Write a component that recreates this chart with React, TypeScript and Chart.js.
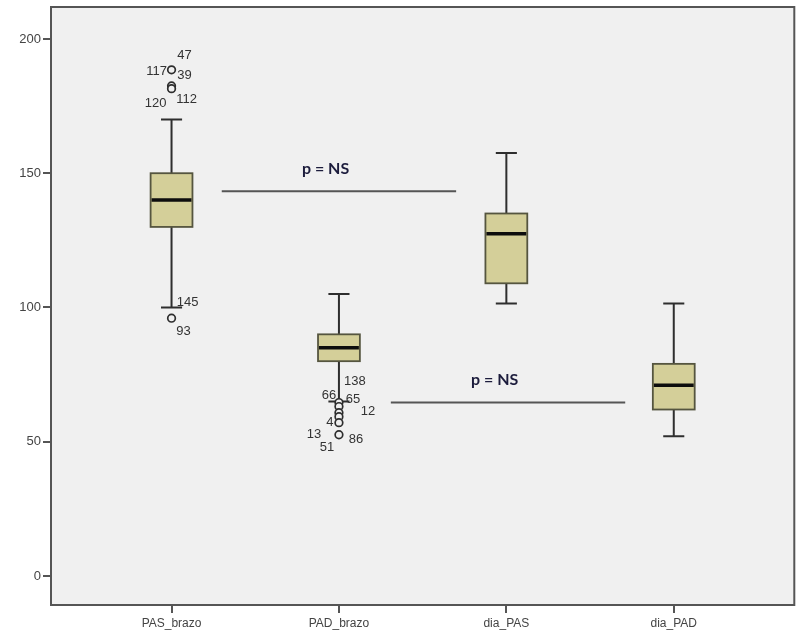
import React, { useEffect, useRef } from "react";
import { Chart, registerables } from "chart.js";

Chart.register(...registerables);

// ---- data ----
const categories = ["PAS_brazo", "PAD_brazo", "dia_PAS", "dia_PAD"];
const whiskerLow = [100, 65, 101.5, 52];
const q1 = [130, 80, 109, 62];
const median = [140, 85, 127.5, 71];
const q3 = [150, 90, 135, 79];
const whiskerHigh = [170, 105, 157.5, 101.5];

const outlierCat = [0, 0, 0, 0, 1, 1, 1, 1, 1, 1];
const outlierVal = [188.5, 182.5, 181.5, 96, 64.6, 63.1, 60.8, 59.3, 57.1, 52.6];

const labelCat = [0, 0, 0, 0, 0, 0, 0, 1, 1, 1, 1, 1, 1, 1, 1];
const labelVal = [188.5, 188.5, 188.5, 182, 182, 100, 96, 64.6, 64.6, 64.6, 60.8, 59.3, 52.6, 52.6, 52.6];
const labelText = ["47", "117", "39", "120", "112", "145", "93", "138", "66", "65", "12", "4", "13", "51", "86"];

const yTicks = [0, 50, 100, 150, 200];

const pLine1X = [0.3, 1.7];
const pLine1Y = [143.3, 143.3];
const pLine2X = [1.31, 2.71];
const pLine2Y = [64.6, 64.6];
const pTextX = [0.92, 1.93];
const pTextY = [151.5, 73];
const pText = ["p = NS", "p = NS"];

// ---- styling (pixel offsets of the outlier labels) ----
const labelOffsets: [number, number][] = [
  [13, -14], [-15, 2], [13, 6], [-16, 16], [15, 12], [16, -5], [12, 13],
  [16, -21], [-10, -7], [14, -3], [29, -1], [-9, 6], [-25, 0], [-12, 13], [17, 5],
];

const boxHalf = 0.125;
const capHalf = 0.063;

export default function App() {
  const ref = useRef<HTMLCanvasElement | null>(null);

  useEffect(() => {
    document.body.style.margin = "0";
    const canvas = ref.current!;
    const boxPlugin = {
      id: "boxes",
      beforeDraw(chart: any) {
        const { ctx, chartArea: a } = chart;
        ctx.save();
        ctx.fillStyle = "#f0f0f0";
        ctx.fillRect(a.left, a.top, a.right - a.left, a.bottom - a.top);
        ctx.restore();
      },
      beforeDatasetsDraw(chart: any) {
        const { ctx } = chart;
        const xs = chart.scales.x;
        const ys = chart.scales.y;
        ctx.save();
        for (let i = 0; i < categories.length; i++) {
          const cx = xs.getPixelForValue(i);
          const bl = xs.getPixelForValue(i - boxHalf);
          const br = xs.getPixelForValue(i + boxHalf);
          const cl = xs.getPixelForValue(i - capHalf);
          const cr = xs.getPixelForValue(i + capHalf);
          const yLo = ys.getPixelForValue(whiskerLow[i]);
          const yHi = ys.getPixelForValue(whiskerHigh[i]);
          const y1 = ys.getPixelForValue(q1[i]);
          const y3 = ys.getPixelForValue(q3[i]);
          const ym = ys.getPixelForValue(median[i]);
          ctx.strokeStyle = "#2e2e2e";
          ctx.lineWidth = 2;
          ctx.beginPath();
          ctx.moveTo(cx, yHi); ctx.lineTo(cx, y3);
          ctx.moveTo(cx, y1); ctx.lineTo(cx, yLo);
          ctx.moveTo(cl, yHi); ctx.lineTo(cr, yHi);
          ctx.moveTo(cl, yLo); ctx.lineTo(cr, yLo);
          ctx.stroke();
          ctx.fillStyle = "#d4cf99";
          ctx.fillRect(bl, y3, br - bl, y1 - y3);
          ctx.strokeStyle = "#55553f";
          ctx.lineWidth = 1.8;
          ctx.strokeRect(bl, y3, br - bl, y1 - y3);
          ctx.strokeStyle = "#0d0d0d";
          ctx.lineWidth = 3.5;
          ctx.beginPath();
          ctx.moveTo(bl + 1, ym); ctx.lineTo(br - 1, ym);
          ctx.stroke();
        }
        ctx.restore();
      },
      afterDatasetsDraw(chart: any) {
        const { ctx } = chart;
        const xs = chart.scales.x;
        const ys = chart.scales.y;
        ctx.save();
        ctx.fillStyle = "#333333";
        ctx.font = "13px Arial, 'Liberation Sans', sans-serif";
        ctx.textAlign = "center";
        ctx.textBaseline = "middle";
        for (let i = 0; i < labelText.length; i++) {
          const px = xs.getPixelForValue(labelCat[i]) + labelOffsets[i][0];
          const py = ys.getPixelForValue(labelVal[i]) + labelOffsets[i][1];
          ctx.fillText(labelText[i], px, py);
        }
        ctx.fillStyle = "#1c1c3c";
        ctx.font = "bold 16px Lato, 'Open Sans', sans-serif";
        for (let i = 0; i < pText.length; i++) {
          ctx.fillText(pText[i], xs.getPixelForValue(pTextX[i]), ys.getPixelForValue(pTextY[i]));
        }
        const a = chart.chartArea;
        ctx.strokeStyle = "#555555";
        ctx.lineWidth = 2;
        ctx.strokeRect(a.left, a.top, a.right - a.left, a.bottom - a.top);
        ctx.restore();
      },
    };

    const chart = new Chart(canvas, {
      type: "scatter",
      data: {
        datasets: [
          {
            data: outlierCat.map((c, i) => ({ x: c, y: outlierVal[i] })),
            pointStyle: "circle",
            pointRadius: 3.8,
            pointBorderWidth: 1.7,
            pointBorderColor: "#2e2e2e",
            pointBackgroundColor: "rgba(240,240,240,1)",
            showLine: false,
          },
          {
            data: pLine1X.map((x, i) => ({ x, y: pLine1Y[i] })),
            showLine: true,
            borderColor: "#555555",
            borderWidth: 2,
            pointRadius: 0,
          },
          {
            data: pLine2X.map((x, i) => ({ x, y: pLine2Y[i] })),
            showLine: true,
            borderColor: "#555555",
            borderWidth: 2,
            pointRadius: 0,
          },
        ],
      },
      options: {
        responsive: false,
        animation: false,
        layout: { padding: { top: 7, right: 0, left: 0, bottom: 0 } },
        plugins: { legend: { display: false }, tooltip: { enabled: false } },
        scales: {
          x: {
            type: "linear",
            min: -0.72,
            max: 3.72,
            afterBuildTicks: (s: any) => {
              s.ticks = categories.map((_, i) => ({ value: i }));
            },
            afterFit: (s: any) => {
              s.height = 37;
              s.paddingLeft = 0;
              s.paddingRight = 0;
            },
            grid: { drawOnChartArea: false, drawTicks: true, tickLength: 8, color: "#555555", lineWidth: 2 },
            border: { display: false },
            ticks: {
              padding: 3,
              color: "#444444",
              font: { size: 12, family: "Arial, 'Liberation Sans', sans-serif" },
              callback: (v: any) => categories[v] ?? "",
            },
          },
          y: {
            type: "linear",
            min: -10.8,
            max: 211.9,
            afterBuildTicks: (s: any) => {
              s.ticks = yTicks.map((v) => ({ value: v }));
            },
            afterFit: (s: any) => {
              s.width = 51;
              s.paddingTop = 0;
              s.paddingBottom = 0;
            },
            grid: { drawOnChartArea: false, drawTicks: true, tickLength: 8, color: "#555555", lineWidth: 2 },
            border: { display: false },
            ticks: {
              padding: 2,
              color: "#444444",
              font: { size: 13, family: "Arial, 'Liberation Sans', sans-serif" },
            },
          },
        },
      },
      plugins: [boxPlugin],
    });
    return () => chart.destroy();
  }, []);

  return <canvas ref={ref} width={800} height={642} style={{ display: "block" }} />;
}
